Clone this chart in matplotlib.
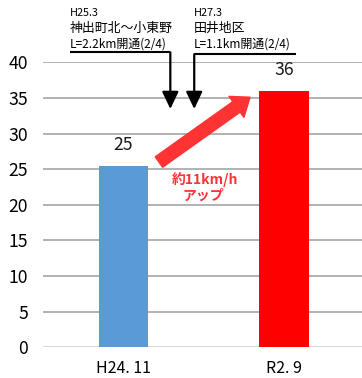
import matplotlib
matplotlib.use("Agg")
import matplotlib.pyplot as plt
from matplotlib.patches import FancyArrowPatch

plt.rcParams['font.family'] = ['Noto Sans CJK JP', 'DejaVu Sans']

# Average travel speed (km/h) before and after the road openings
periods = ["H24. 11", "R2. 9"]
speeds = [25.4, 36.0]
bar_colors = ["#5B9BD5", "#FF0000"]
y_ticks = [0, 5, 10, 15, 20, 25, 30, 35, 40]

# Road-opening notes
note_left = ["H25.3", "神出町北～小東野", "L=2.2km開通(2/4)"]
note_right = ["H27.3", "田井地区", "L=1.1km開通(2/4)"]
gain_text = ["約11km/h", "アップ"]

num_font = ['Liberation Sans Narrow', 'Noto Sans CJK JP', 'DejaVu Sans']

fig = plt.figure(figsize=(3.62, 3.78), dpi=100)
ax = fig.add_axes([0.1196, 0.0812, 0.8804, 0.754])

x = list(range(len(periods)))
bars = ax.bar(x, speeds, width=0.31, color=bar_colors, zorder=3)

ax.set_xlim(-0.5, 1.487)
ax.set_ylim(0, 40)
ax.set_yticks(y_ticks)
ax.set_yticklabels([str(t) for t in y_ticks], family=num_font, fontsize=12.7)
ax.set_xticks(x)
ax.set_xticklabels(periods, fontsize=11.5)
ax.tick_params(axis='y', length=0, pad=11)
ax.tick_params(axis='x', length=0, pad=9)
for s in ax.spines.values():
    s.set_visible(False)

for t in y_ticks[1:]:
    ax.axhline(t, color="#A6A6A6", lw=1.2, zorder=1)
ax.axhline(0, color="#D9D9D9", lw=1.5, zorder=1)

# value labels above the bars
for xi, v in zip(x, speeds):
    ax.annotate(f"{v:.0f}", xy=(xi, v), xytext=(0, 15), textcoords="offset points",
                ha="center", va="center", family=num_font, fontsize=12.7, color="#1a1a1a")

# opening notes with downward arrows
def opening_note(lines, x_left, x_right, x_arrow, y_line):
    ax.plot([x_left, x_right], [y_line, y_line], color="black", lw=1.5, clip_on=False,
            solid_capstyle="butt")
    ax.annotate("", xy=(x_arrow, 33.45), xytext=(x_arrow, y_line),
                arrowprops=dict(arrowstyle="-|>,head_width=0.5,head_length=1.05",
                                color="black", lw=1.6, shrinkA=0, shrinkB=0,
                                mutation_scale=10),
                annotation_clip=False)
    ax.text(x_left, 46.5, lines[0], fontsize=7.8, ha="left", va="baseline", clip_on=False)
    ax.text(x_left, 44.3, lines[1], fontsize=9.3, ha="left", va="baseline", clip_on=False)
    ax.text(x_left, 42.1, lines[2], fontsize=8.6, ha="left", va="baseline", clip_on=False)

opening_note(note_left, -0.334, 0.292, 0.292, 41.4)
opening_note(note_right, 0.441, 1.074, 0.441, 41.12)

# increase arrow
arrow = FancyArrowPatch((0.221, 26.0), (0.789, 35.1),
                        arrowstyle="simple,head_width=18.5,head_length=12,tail_width=9.2",
                        mutation_scale=1, color="#FF3333", shrinkA=0, shrinkB=0, zorder=4)
ax.add_patch(arrow)
ax.text(0.51, 23.6, gain_text[0], fontsize=10, fontweight="bold", color="#FF3333",
        ha="center", va="center")
ax.text(0.50, 21.3, gain_text[1], fontsize=10, fontweight="bold", color="#FF3333",
        ha="center", va="center")

fig.savefig("out.png", dpi=100)
